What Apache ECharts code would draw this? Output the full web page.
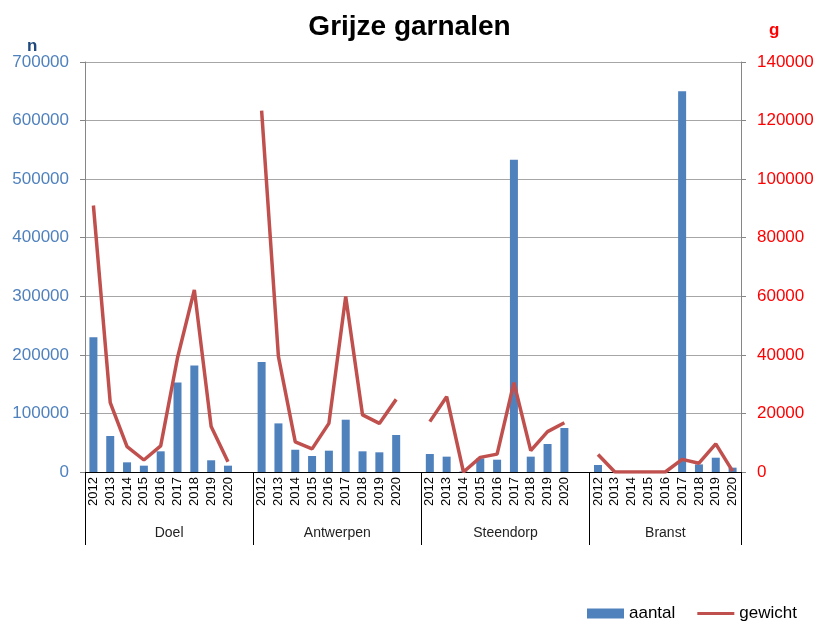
<!DOCTYPE html>
<html>
<head>
<meta charset="utf-8">
<script src="https://cdn.jsdelivr.net/npm/echarts@6/dist/echarts.min.js"></script>
<style>html,body{margin:0;padding:0;background:#fff}#chart{width:819px;height:621px}</style>
</head>
<body>
<div id="chart"></div>
<script>
const groups = ['Doel', 'Antwerpen', 'Steendorp', 'Branst'];
const years = ['2012','2013','2014','2015','2016','2017','2018','2019','2020'];

// aantal (n), per group, years 2012-2020
const aantalDoel      = [230000, 61500, 16500, 10800, 35300, 153000, 182000, 20000, 10800];
const aantalAntwerpen = [188000, 83000, 38000, 27300, 36400, 89300, 35300, 33600, 63200];
const aantalSteendorp = [30700, 26200, 1000, 23300, 21000, 533000, 26200, 47800, 75100];
const aantalBranst    = [12000, 0, 0, 0, 0, 650000, 13000, 24400, 7400];

// gewicht (g), per group, years 2012-2020
const gewichtDoel      = [91000, 23700, 8700, 4100, 8900, 39000, 62200, 15500, 3500];
const gewichtAntwerpen = [123400, 39400, 10300, 7900, 16600, 59900, 19500, 16600, 24800];
const gewichtSteendorp = [17200, 25700, 0, 5000, 6100, 30500, 7300, 13800, 16800];
const gewichtBranst    = [6000, 0, 0, 0, 0, 4300, 3000, 9600, 300];

const leftTicks = [0, 100000, 200000, 300000, 400000, 500000, 600000, 700000];
const rightTicks = [0, 20000, 40000, 60000, 80000, 100000, 120000, 140000];

const aantalGroups = [aantalDoel, aantalAntwerpen, aantalSteendorp, aantalBranst];
const gewichtGroups = [gewichtDoel, gewichtAntwerpen, gewichtSteendorp, gewichtBranst];

// Build categories with a blank slot between groups
const categories = [];
const aantal = [];
const gewicht = [];
const groupBounds = [];
const groupCenters = [];
groups.forEach((g, gi) => {
  const start = categories.length;
  years.forEach((y, yi) => {
    categories.push(y);
    aantal.push(aantalGroups[gi][yi]);
    gewicht.push(gewichtGroups[gi][yi]);
  });
  if (gi < groups.length - 1) {
    categories.push('');
    aantal.push(null);
    gewicht.push(null);
  }
  groupBounds.push(start);
  groupCenters.push((start + categories.length) / 2);
});
groupBounds.push(categories.length);

const chart = echarts.init(document.getElementById('chart'));
const FONT = '"Liberation Sans", Arial, sans-serif';
const plain = v => String(v);
chart.setOption({
  animation: false,
  textStyle: { fontFamily: FONT },
  title: [
    { text: 'Grijze garnalen', left: 'center', top: 8,
      textStyle: { fontFamily: FONT, fontSize: 28, fontWeight: 'bold', color: '#000' } },
    { text: 'n', left: 22, top: 33,
      textStyle: { fontFamily: FONT, fontSize: 17, fontWeight: 'bold', color: '#1F497D' } },
    { text: 'g', left: 764, top: 17,
      textStyle: { fontFamily: FONT, fontSize: 17, fontWeight: 'bold', color: '#FF0000' } }
  ],
  grid: { left: 85, right: 78, top: 62, bottom: 149, containLabel: false },
  legend: {
    left: 582, top: 600,
    itemWidth: 37, itemHeight: 10, itemGap: 22,
    textStyle: { fontFamily: FONT, fontSize: 17, color: '#000' },
    data: [
      { name: 'aantal', icon: 'rect' },
      { name: 'gewicht', icon: 'path://M0,0 H40 V3 H0 Z' }
    ]
  },
  xAxis: [
    {
      type: 'category', data: categories, boundaryGap: true,
      axisLine: { show: true, lineStyle: { color: '#000', width: 1 } },
      axisTick: { show: false },
      axisLabel: { interval: 0, rotate: 90, fontSize: 13, color: '#000', margin: 5, fontFamily: FONT },
      splitLine: { show: false }
    },
    {
      type: 'value', min: 0, max: categories.length, position: 'bottom',
      axisLine: { show: false },
      splitLine: { show: false },
      axisTick: { show: true, length: 73, customValues: groupBounds, lineStyle: { color: '#000', width: 1 } },
      axisLabel: {
        show: true, customValues: groupCenters, margin: 54, fontSize: 14, color: '#222', fontFamily: FONT,
        formatter: function (v) {
          const i = groupCenters.indexOf(v);
          return i >= 0 ? groups[i] : '';
        }
      }
    }
  ],
  yAxis: [
    {
      type: 'value', min: leftTicks[0], max: leftTicks[leftTicks.length - 1], interval: leftTicks[1] - leftTicks[0],
      axisLine: { show: true, lineStyle: { color: '#868686' } },
      axisTick: { show: true, length: 5, lineStyle: { color: '#868686' } },
      axisLabel: { fontSize: 17, color: '#4F81BD', margin: 16, fontFamily: FONT, formatter: plain },
      splitLine: { show: true, lineStyle: { color: '#A6A6A6', width: 1 } }
    },
    {
      type: 'value', min: rightTicks[0], max: rightTicks[rightTicks.length - 1], interval: rightTicks[1] - rightTicks[0],
      position: 'right',
      axisLine: { show: true, lineStyle: { color: '#868686' } },
      axisTick: { show: true, length: 5, lineStyle: { color: '#868686' } },
      axisLabel: { fontSize: 17, color: '#FF0000', margin: 16, fontFamily: FONT, formatter: plain },
      splitLine: { show: false }
    }
  ],
  series: [
    {
      name: 'aantal', type: 'bar', xAxisIndex: 0, yAxisIndex: 0,
      data: aantal, barWidth: 8,
      itemStyle: { color: '#4F81BD' }
    },
    {
      name: 'gewicht', type: 'line', xAxisIndex: 0, yAxisIndex: 1,
      data: gewicht, symbol: 'none', connectNulls: false,
      lineStyle: { color: '#C0504D', width: 3.5 },
      itemStyle: { color: '#C0504D' }
    }
  ]
});
</script>
</body>
</html>
